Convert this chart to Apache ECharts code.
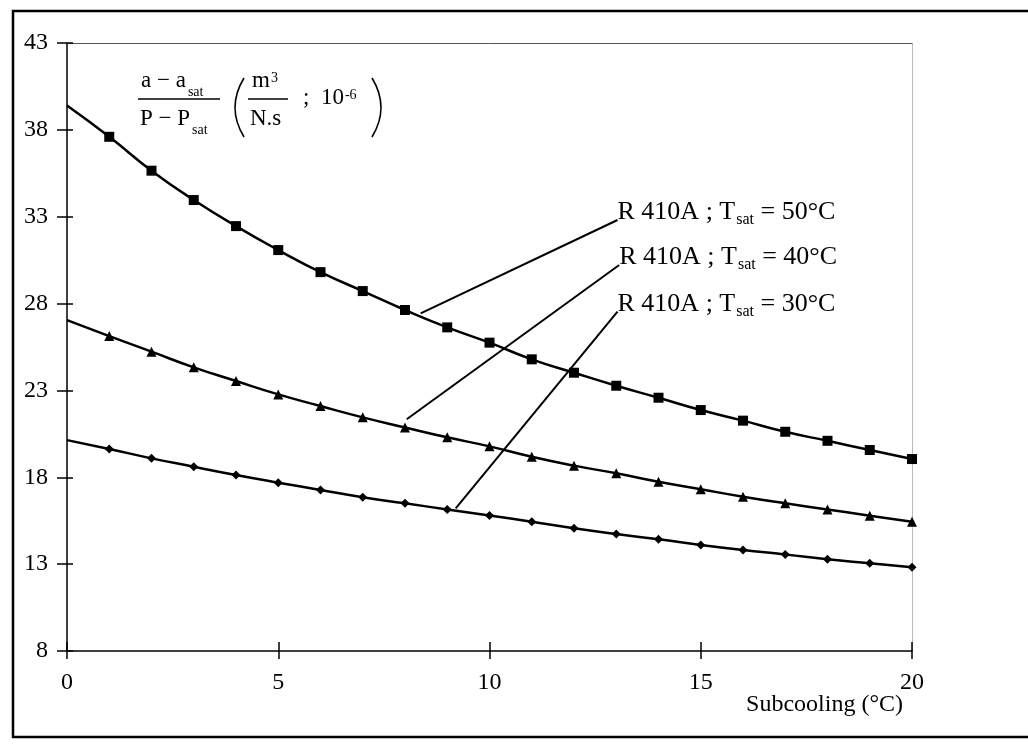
<!DOCTYPE html>
<html>
<head>
<meta charset="utf-8">
<script src="https://cdn.jsdelivr.net/npm/echarts@6/dist/echarts.min.js"></script>
<style>
  html, body { margin: 0; padding: 0; background: #fff; }
  #main { width: 1028px; height: 749px; }
</style>
</head>
<body>
<div id="main"></div>
<script>
// subcooling (°C)
var subcooling = [0, 1, 2, 3, 4, 5, 6, 7, 8, 9, 10, 11, 12, 13, 14, 15, 16, 17, 18, 19, 20];

// (a - a_sat)/(P - P_sat), m3/(N.s) x 1e-6
var r410a_50 = [39.4, 37.6, 35.65, 33.96, 32.46, 31.08, 29.81, 28.72, 27.63, 26.63, 25.75,
                24.79, 24.02, 23.27, 22.58, 21.87, 21.26, 20.62, 20.1, 19.57, 19.05];
var r410a_40 = [27.05, 26.13, 25.23, 24.33, 23.54, 22.77, 22.1, 21.45, 20.87, 20.3, 19.78,
                19.18, 18.67, 18.23, 17.74, 17.31, 16.88, 16.5, 16.15, 15.79, 15.44];
var r410a_30 = [20.14, 19.63, 19.09, 18.61, 18.13, 17.69, 17.27, 16.85, 16.5, 16.15, 15.8,
                15.44, 15.06, 14.73, 14.43, 14.1, 13.81, 13.56, 13.28, 13.05, 12.82];

var seriesTemps = ['50', '40', '30'];

// leader lines : point on the curve -> start of the label
var leaderFrom = [[8.37, 27.44], [8.04, 21.34], [9.2, 16.21]];
var leaderTo = [[13.03, 32.81], [13.07, 30.22], [13.03, 27.53]];

var FONT = "'Liberation Serif', 'Times New Roman', serif";

var myChart = echarts.init(document.getElementById('main'));

function buildData(vals) {
    var out = [];
    for (var i = 0; i < subcooling.length; i++) {
        if (i === 0) {
            out.push({ value: [subcooling[i], vals[i]], symbol: 'none' });
        } else {
            out.push([subcooling[i], vals[i]]);
        }
    }
    return out;
}

function makeSeries(vals, symbol, size, k) {
    return {
        type: 'line',
        xAxisIndex: 0,
        yAxisIndex: 0,
        smooth: true,
        symbol: symbol,
        symbolSize: size,
        data: buildData(vals),
        itemStyle: { color: '#000' },
        lineStyle: { color: '#000', width: 2.5 },
        markLine: {
            silent: true,
            symbol: ['none', 'none'],
            animation: false,
            label: { show: false },
            lineStyle: { color: '#000', width: 2, type: 'solid' },
            data: [[{ coord: leaderFrom[k] }, { coord: leaderTo[k] }]]
        }
    };
}

var tickLabel = { fontFamily: FONT, fontSize: 24, color: '#000' };

var option = {
    animation: false,
    backgroundColor: '#fff',
    grid: { left: 67, right: 116, top: 43, bottom: 98, containLabel: false, outerBoundsMode: 'none' },
    xAxis: [
        {
            type: 'value', min: 0, max: 20, interval: 5, position: 'bottom',
            axisLine: { onZero: false, lineStyle: { color: '#000', width: 1.5 } },
            axisTick: { length: 8, lineStyle: { color: '#000', width: 1.5 } },
            axisLabel: Object.assign({ margin: 20 }, tickLabel),
            splitLine: { show: false }
        },
        {
            type: 'value', min: 0, max: 20, position: 'top',
            axisLine: { onZero: false, lineStyle: { color: '#555', width: 1 } },
            axisTick: { show: false }, axisLabel: { show: false }, splitLine: { show: false }
        },
        {
            type: 'value', min: 0, max: 20, interval: 5, position: 'bottom',
            axisLine: { show: false, onZero: false },
            axisTick: { inside: true, length: 9, lineStyle: { color: '#000', width: 1.5 } },
            axisLabel: { show: false }, splitLine: { show: false }
        }
    ],
    yAxis: [
        {
            type: 'value', min: 8, max: 43, interval: 5, position: 'left',
            axisLine: { show: true, onZero: false, lineStyle: { color: '#000', width: 1.5 } },
            axisTick: { show: true, length: 10, lineStyle: { color: '#000', width: 1.5 } },
            axisLabel: Object.assign({ margin: 19 }, tickLabel),
            splitLine: { show: false }
        },
        {
            type: 'value', min: 8, max: 43, position: 'right',
            axisLine: { show: true, onZero: false, lineStyle: { color: '#aaa', width: 1, type: 'dotted' } },
            axisTick: { show: false }, axisLabel: { show: false }, splitLine: { show: false }
        },
        {
            type: 'value', min: 8, max: 43, interval: 5, position: 'left',
            axisLine: { show: false, onZero: false },
            axisTick: { show: true, inside: true, length: 6, lineStyle: { color: '#000', width: 1.5 } },
            axisLabel: { show: false }, splitLine: { show: false }
        }
    ],
    series: [
        makeSeries(r410a_50, 'rect', 10, 0),
        makeSeries(r410a_40, 'triangle', 10, 1),
        makeSeries(r410a_30, 'diamond', 9, 2)
    ]
};

myChart.setOption(option);

// texts and frame
var mainTok = { fontFamily: FONT, fontSize: 26, lineHeight: 28, verticalAlign: 'top', color: '#000' };
var subTok = { fontFamily: FONT, fontSize: 16, lineHeight: 16, verticalAlign: 'top', padding: [13, 0, 0, 1], color: '#000' };
var fm = { fontFamily: FONT, fontSize: 23, lineHeight: 26, verticalAlign: 'top', color: '#000' };
var fs = { fontFamily: FONT, fontSize: 14, lineHeight: 14, verticalAlign: 'top', padding: [16, 0, 0, 2], color: '#000' };
var fsup = { fontFamily: FONT, fontSize: 14, lineHeight: 14, verticalAlign: 'top', padding: [2, 0, 0, 1], color: '#000' };
var ax = { fontFamily: FONT, fontSize: 24, lineHeight: 27, verticalAlign: 'top', color: '#000' };

function richText(x, y, text, align) {
    return {
        type: 'text', x: x, y: y, z: 10,
        style: {
            text: text, align: align || 'left', verticalAlign: 'top',
            rich: { m: mainTok, s: subTok, fm: fm, fs: fs, fsup: fsup, ax: ax }
        }
    };
}

var graphics = [
    {
        type: 'rect', z: -1, silent: true,
        shape: { x: 13, y: 11, width: 1030, height: 726 },
        style: { fill: 'none', stroke: '#000', lineWidth: 2.5 }
    },
    // x axis title
    richText(903, 693, '{ax|Subcooling (°C)}', 'right'),
    // formula in the top left corner
    richText(141, 69, '{fm|a − a}{fs|sat}'),
    richText(140, 107, '{fm|P − P}{fs|sat}'),
    { type: 'line', shape: { x1: 138, y1: 99, x2: 220, y2: 99 }, style: { stroke: '#000', lineWidth: 1.3 } },
    { type: 'bezierCurve', shape: { x1: 244, y1: 78, x2: 244, y2: 137, cpx1: 226, cpy1: 107.5 },
      style: { stroke: '#000', lineWidth: 1.6, fill: 'none' } },
    richText(252, 69, '{fm|m}{fsup|3}'),
    richText(250, 107, '{fm|N.s}'),
    { type: 'line', shape: { x1: 248, y1: 99, x2: 288, y2: 99 }, style: { stroke: '#000', lineWidth: 1.3 } },
    richText(303, 86, '{fm|;  10}{fsup|-6}'),
    { type: 'bezierCurve', shape: { x1: 372, y1: 78, x2: 372, y2: 137, cpx1: 390, cpy1: 107.5 },
      style: { stroke: '#000', lineWidth: 1.6, fill: 'none' } }
];

for (var k = 0; k < seriesTemps.length; k++) {
    var p = myChart.convertToPixel({ gridIndex: 0 }, leaderTo[k]);
    graphics.push(richText(p[0], p[1] - 21, '{m|R 410A ; T}{s|sat}{m| = ' + seriesTemps[k] + '°C}'));
}

myChart.setOption({ graphic: graphics });
</script>
</body>
</html>
